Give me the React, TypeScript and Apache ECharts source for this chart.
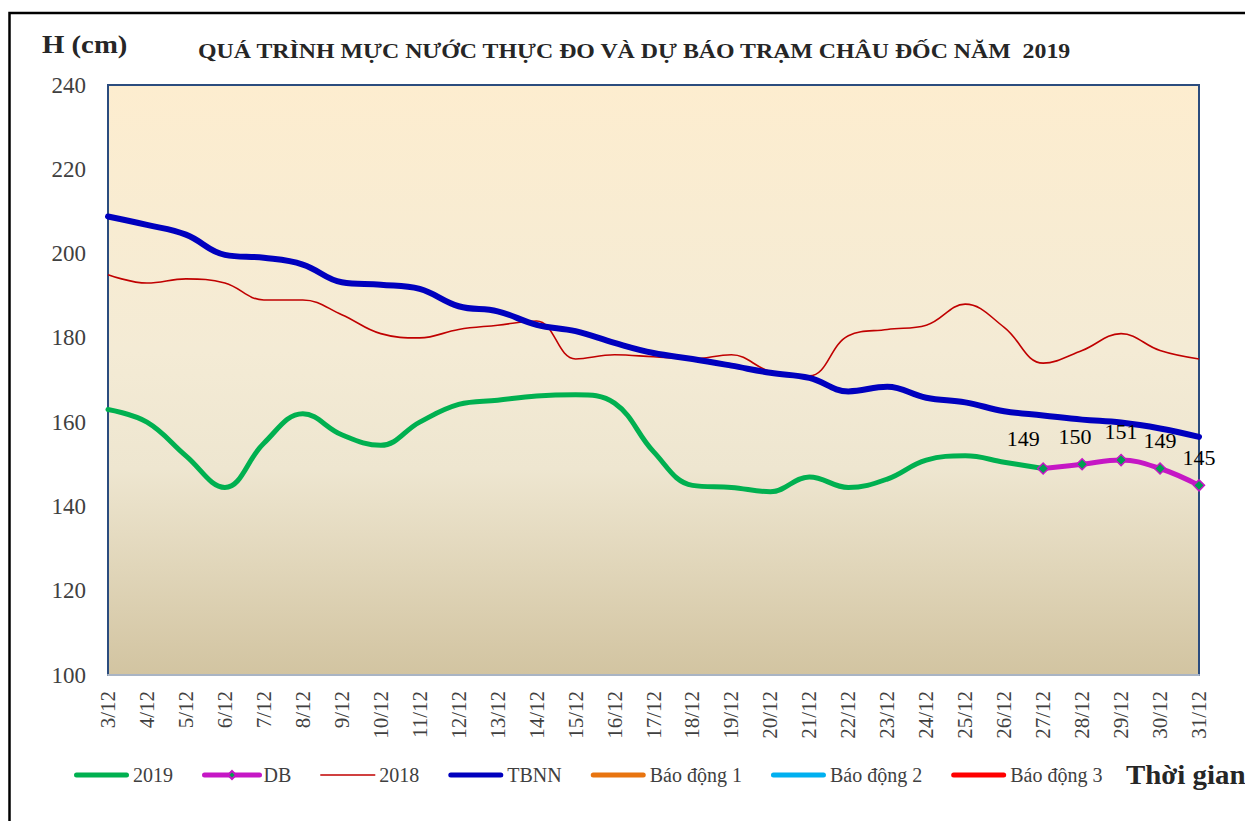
import React, { useEffect, useRef } from "react";
import * as echarts from "echarts";

const categories = [
  "3/12", "4/12", "5/12", "6/12", "7/12", "8/12", "9/12", "10/12", "11/12", "12/12",
  "13/12", "14/12", "15/12", "16/12", "17/12", "18/12", "19/12", "20/12", "21/12", "22/12",
  "23/12", "24/12", "25/12", "26/12", "27/12", "28/12", "29/12", "30/12", "31/12",
];

const y2019 = [
  163, 160, 152, 144.5, 155, 162, 157, 154.5, 160, 164.2,
  165.2, 166.2, 166.5, 164.5, 153, 145, 144.5, 143.5, 147, 144.5,
  146.5, 151, 152, 150.5, 149, null, null, null, null,
];

const yDB = [
  null, null, null, null, null, null, null, null, null, null,
  null, null, null, null, null, null, null, null, null, null,
  null, null, null, null, 149, 150, 151, 149, 145,
];

const y2018 = [
  195, 193, 194, 193, 189, 189, 185.5, 181, 180, 182,
  183, 184, 175, 176, 175.5, 175, 176, 172, 171, 180.5,
  182, 183, 188, 182.5, 174, 177, 181, 177, 175,
];

const yTBNN = [
  208.8, 206.8, 204.5, 199.7, 199, 197.4, 193.2, 192.6, 191.6, 187.5,
  186.3, 183.1, 181.6, 178.8, 176.4, 175, 173.4, 171.7, 170.5, 167.3,
  168.4, 165.8, 164.7, 162.6, 161.6, 160.6, 159.9, 158.5, 156.5,
];

const alarmNames = ["Báo động 1", "Báo động 2", "Báo động 3"];
const alarmColors = ["#E8740F", "#00B0F0", "#FF0000"];

const SERIF = "'Liberation Serif', 'Times New Roman', serif";

const THICK_ICON =
  "path://M2.5,0 L52.5,0 A2.5,2.5 0 0 1 52.5,5 L2.5,5 A2.5,2.5 0 0 1 2.5,0 Z";
const THIN_ICON = "path://M0,0 L55,0 L55,1.6 L0,1.6 Z";

export default function App() {
  const ref = useRef<HTMLDivElement>(null);

  useEffect(() => {
    if (!ref.current) return;
    const chart = echarts.init(ref.current, undefined, { renderer: "svg" });

    const dbLabelOffsets: Record<number, [number, number]> = {
      24: [-20, -2],
      25: [-7, 0],
    };

    const textEl = (text: string, x: number, y: number, size: number, scaleX: number) => ({
      type: "text",
      x,
      y,
      scaleX,
      silent: true,
      style: {
        text,
        font: `bold ${size}px ${SERIF}`,
        fill: "#262626",
        textAlign: "left",
        textVerticalAlign: "middle",
        align: "left",
        verticalAlign: "middle",
      },
    });

    const option: any = {
      animation: false,
      backgroundColor: "#ffffff",
      graphic: [
        {
          type: "rect",
          shape: { x: 9.5, y: 13, width: 1300, height: 900 },
          style: { fill: "none", stroke: "#000000", lineWidth: 2.5 },
          silent: true,
        },
        textEl("QUÁ TRÌNH MỰC NƯỚC THỰC ĐO VÀ DỰ BÁO TRẠM CHÂU ĐỐC NĂM  2019", 198, 51, 21, 1.135),
        textEl("H (cm)", 42, 45, 25, 1.15),
        textEl("Thời gian", 1126, 775, 27, 1.07),
      ],
      grid: {
        left: 108,
        top: 85,
        right: 46,
        bottom: 146,
        show: true,
        borderColor: "#2B4C7E",
        borderWidth: 2,
        backgroundColor: new echarts.graphic.LinearGradient(0, 0, 0, 1, [
          { offset: 0, color: "#FDEDCF" },
          { offset: 0.45, color: "#F4EBD5" },
          { offset: 0.65, color: "#EEE6D0" },
          { offset: 1, color: "#D2C4A1" },
        ]),
      },
      legend: {
        left: 74,
        top: 765,
        itemWidth: 55,
        itemHeight: 10,
        itemGap: 29,
        padding: 0,
        textStyle: { fontFamily: SERIF, fontSize: 20, color: "#404040", padding: [0, 0, 0, -1] },
        data: [
          { name: "2019", icon: THICK_ICON },
          { name: "DB", lineStyle: { width: 5 } },
          { name: "2018", icon: THIN_ICON },
          { name: "TBNN", icon: THICK_ICON },
          ...alarmNames.map((n) => ({ name: n, icon: THICK_ICON })),
        ],
      },
      xAxis: {
        type: "category",
        data: categories,
        boundaryGap: false,
        axisLine: { show: true, lineStyle: { color: "#A9B4C4", width: 2 } },
        axisTick: { show: false },
        splitLine: { show: false },
        axisLabel: {
          rotate: 90,
          interval: 0,
          margin: 16,
          fontFamily: SERIF,
          fontSize: 21,
          color: "#404040",
        },
      },
      yAxis: {
        type: "value",
        min: 100,
        max: 240,
        interval: 20,
        axisLine: { show: true, lineStyle: { color: "#2B4C7E", width: 2 } },
        axisTick: { show: false },
        splitLine: { show: false },
        axisLabel: {
          margin: 22,
          fontFamily: SERIF,
          fontSize: 23,
          color: "#404040",
        },
      },
      series: [
        {
          name: "2019",
          type: "line",
          data: y2019,
          smooth: 0.4,
          symbol: "none",
          z: 4,
          lineStyle: { color: "#00B050", width: 5, cap: "round" },
          itemStyle: { color: "#00B050" },
        },
        {
          name: "DB",
          type: "line",
          data: yDB.map((v, i) =>
            v === null
              ? null
              : dbLabelOffsets[i]
              ? { value: v, label: { offset: dbLabelOffsets[i] } }
              : v
          ),
          smooth: 0.4,
          symbol: "diamond",
          symbolSize: 11,
          z: 5,
          lineStyle: { color: "#C517C5", width: 5, cap: "round" },
          itemStyle: { color: "#00A050", borderColor: "#C517C5", borderWidth: 1.5 },
          label: {
            show: true,
            position: "top",
            distance: 11,
            fontFamily: SERIF,
            fontSize: 22,
            color: "#000000",
          },
        },
        {
          name: "2018",
          type: "line",
          data: y2018,
          smooth: 0.4,
          symbol: "none",
          z: 2,
          lineStyle: { color: "#C00000", width: 1.6 },
          itemStyle: { color: "#C00000" },
        },
        {
          name: "TBNN",
          type: "line",
          data: yTBNN,
          smooth: 0.4,
          symbol: "none",
          z: 3,
          lineStyle: { color: "#0000BE", width: 6, cap: "round" },
          itemStyle: { color: "#0000BE" },
        },
        ...alarmNames.map((n, k) => ({
          name: n,
          type: "line",
          data: [],
          symbol: "none",
          lineStyle: { color: alarmColors[k], width: 5, cap: "round" },
          itemStyle: { color: alarmColors[k] },
        })),
      ],
    };

    chart.setOption(option);
    return () => chart.dispose();
  }, []);

  return (
    <div
      ref={ref}
      style={{ position: "absolute", left: 0, top: 0, width: 1245, height: 821 }}
    />
  );
}
